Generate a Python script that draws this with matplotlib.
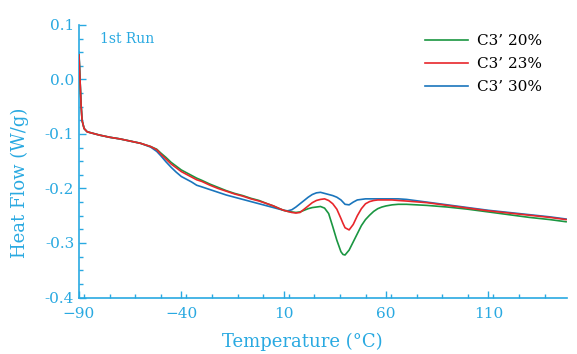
import matplotlib
matplotlib.use("Agg")
import matplotlib.pyplot as plt
from matplotlib.ticker import MultipleLocator, FormatStrFormatter

# DSC traces, 1st run
temps = [-90, -89.5, -89, -88.5, -87.5, -86, -83, -80, -75, -70, -65, -60, -55, -52,
         -50, -47.5, -45, -42.5, -40, -37.5, -35, -32.5, -30, -26, -22, -18, -14, -10,
         -6, -2, 2, 5, 8, 10, 12, 14, 16, 18, 20, 22, 24, 26, 28, 30, 32, 34, 36, 38,
         39, 40, 42, 44, 46, 48, 50, 52, 54, 56, 58, 60, 63, 66, 70, 80, 90, 100, 110,
         120, 130, 140, 148]

c3_20 = [0.045, 0.0, -0.045, -0.075, -0.09, -0.096, -0.099, -0.102, -0.106, -0.109,
         -0.113, -0.117, -0.123, -0.128, -0.135, -0.143, -0.152, -0.159, -0.166, -0.171,
         -0.176, -0.181, -0.185, -0.192, -0.198, -0.204, -0.209, -0.213, -0.218, -0.222,
         -0.228, -0.232, -0.237, -0.240, -0.242, -0.243, -0.244, -0.243, -0.240, -0.237,
         -0.235, -0.234, -0.233, -0.236, -0.246, -0.270, -0.295, -0.316, -0.321, -0.322,
         -0.313, -0.298, -0.283, -0.268, -0.257, -0.249, -0.242, -0.237, -0.234, -0.232,
         -0.230, -0.229, -0.229, -0.231, -0.234, -0.238, -0.243, -0.248, -0.253, -0.257,
         -0.261]

c3_23 = [0.045, 0.0, -0.045, -0.075, -0.09, -0.096, -0.099, -0.102, -0.106, -0.109,
         -0.113, -0.117, -0.123, -0.129, -0.137, -0.146, -0.155, -0.162, -0.169, -0.174,
         -0.179, -0.184, -0.187, -0.194, -0.200, -0.205, -0.210, -0.214, -0.219, -0.223,
         -0.228, -0.232, -0.237, -0.240, -0.242, -0.244, -0.245, -0.244, -0.238, -0.232,
         -0.226, -0.222, -0.220, -0.219, -0.222, -0.228, -0.238, -0.255, -0.264, -0.272,
         -0.276, -0.266, -0.250, -0.237, -0.228, -0.224, -0.222, -0.221, -0.221, -0.221,
         -0.221, -0.222, -0.223, -0.226, -0.231, -0.236, -0.241, -0.245, -0.249, -0.253,
         -0.257]

c3_30 = [0.05, 0.0, -0.045, -0.075, -0.09, -0.096, -0.099, -0.102, -0.106, -0.109,
         -0.113, -0.117, -0.124, -0.132, -0.140, -0.151, -0.161, -0.170, -0.178, -0.183,
         -0.188, -0.194, -0.197, -0.202, -0.207, -0.212, -0.216, -0.220, -0.224, -0.228,
         -0.232, -0.235, -0.238, -0.240, -0.241, -0.239, -0.234, -0.228, -0.222, -0.216,
         -0.211, -0.208, -0.207, -0.209, -0.211, -0.213, -0.216, -0.221, -0.225, -0.229,
         -0.230, -0.225, -0.221, -0.220, -0.219, -0.219, -0.219, -0.219, -0.219, -0.219,
         -0.219, -0.219, -0.220, -0.225, -0.230, -0.235, -0.240, -0.244, -0.248, -0.252,
         -0.256]

labels = ["C3\u2019 20%", "C3\u2019 23%", "C3\u2019 30%"]
colors = ["#1a9641", "#e8262b", "#1a75bc"]

CYAN = "#29a9e1"
plt.rcParams["font.family"] = ["DejaVu Serif"]

fig = plt.figure(figsize=(5.77, 3.54), dpi=100)
ax = fig.add_axes([0.1369, 0.1596, 0.8452, 0.7698])

ax.plot(temps, c3_20, color=colors[0], lw=1.2, label=labels[0], zorder=3)
ax.plot(temps, c3_23, color=colors[1], lw=1.2, label=labels[1], zorder=4)
ax.plot(temps, c3_30, color=colors[2], lw=1.2, label=labels[2], zorder=2)

ax.set_xlim(-90, 148.3)
ax.set_ylim(-0.4, 0.1)
ax.xaxis.set_major_locator(MultipleLocator(50))
ax.xaxis.set_minor_locator(MultipleLocator(12.5))
ax.yaxis.set_major_locator(MultipleLocator(0.1))
ax.yaxis.set_minor_locator(MultipleLocator(0.025))
ax.yaxis.set_major_formatter(FormatStrFormatter("%.1f"))
ax.set_xticks([-90, -40, 10, 60, 110])

for side in ["top", "right"]:
    ax.spines[side].set_visible(False)
for side in ["left", "bottom"]:
    ax.spines[side].set_color(CYAN)
    ax.spines[side].set_linewidth(1.2)

ax.tick_params(which="both", direction="in", colors=CYAN, labelsize=11, width=1.0)
ax.tick_params(which="major", length=5)
ax.tick_params(which="minor", length=3)
ax.tick_params(axis="x", pad=7)

ax.set_xlabel("Temperature (\u00b0C)", color=CYAN, fontsize=13, va="center")
ax.xaxis.set_label_coords(0.457, -0.162)
ax.set_ylabel("Heat Flow (W/g)", color=CYAN, fontsize=13, va="center")
ax.yaxis.set_label_coords(-0.121, 0.42)

ax.text(0.043, 0.949, "1st Run", transform=ax.transAxes, color=CYAN,
        fontsize=10, va="center", ha="left")

ax.legend(loc="upper left", bbox_to_anchor=(425 / 577, 1 - 34 / 354),
          bbox_transform=fig.transFigure, frameon=False, fontsize=11,
          handlelength=2.8, handletextpad=0.6, labelspacing=0.6,
          borderpad=0, borderaxespad=0)

plt.savefig("out.png", dpi=100)
